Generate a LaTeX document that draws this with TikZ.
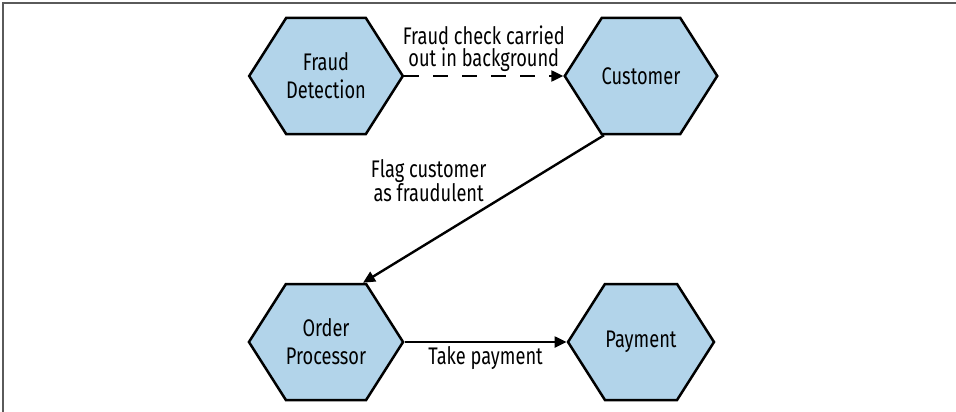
\documentclass[tikz,border=0pt]{standalone}
\usepackage{fontspec}
\setmainfont{Fira Sans}[FakeStretch=0.76]
\usetikzlibrary{positioning,shapes.symbols,arrows.meta}
\definecolor{hexblue}{RGB}{178,212,234}
\definecolor{framegray}{RGB}{90,90,90}

\begin{document}
\begin{tikzpicture}[x=1pt, y=-1pt,
  service/.style={signal, signal to=west and east, signal pointer angle=115,
    draw, line width=2.5pt, fill=hexblue, minimum width=146pt, minimum height=116pt,
    inner sep=0pt, align=center, font=\fontsize{24}{28}\selectfont},
  flow/.style={line width=2.4pt, -{Triangle[length=12pt,width=11pt]}},
  lbl/.style={inner sep=3pt, align=center, font=\fontsize{24}{22}\selectfont}]
  \useasboundingbox (0,0) rectangle (956,412);
  % frame
  \draw[framegray, line width=1.3pt] (3,412) -- (3,3) -- (956,3);
  % services
  \node[service] (fraud) at (326,76) {Fraud\\Detection};
  \node[service] (customer) at (641,76) {Customer};
  \node[service] (order) at (326,342) {Order\\Processor};
  \node[service] (payment) at (641,342) {Payment};
  % fraud check runs in background
  \draw[flow, dash pattern=on 15pt off 14pt] (fraud.east)
    -- node[lbl, above] {Fraud check carried\\out in background} (customer.west);
  % flagged customer goes to order processing
  \draw[flow] ([xshift=-37pt]customer.south)
    -- node[lbl, anchor=south east, xshift=7pt, yshift=3pt] {Flag customer\\as fraudulent}
    ([xshift=37pt]order.north);
  \draw[flow] (order.east) -- node[lbl, below] {Take payment} (payment.west);
\end{tikzpicture}
\end{document}
